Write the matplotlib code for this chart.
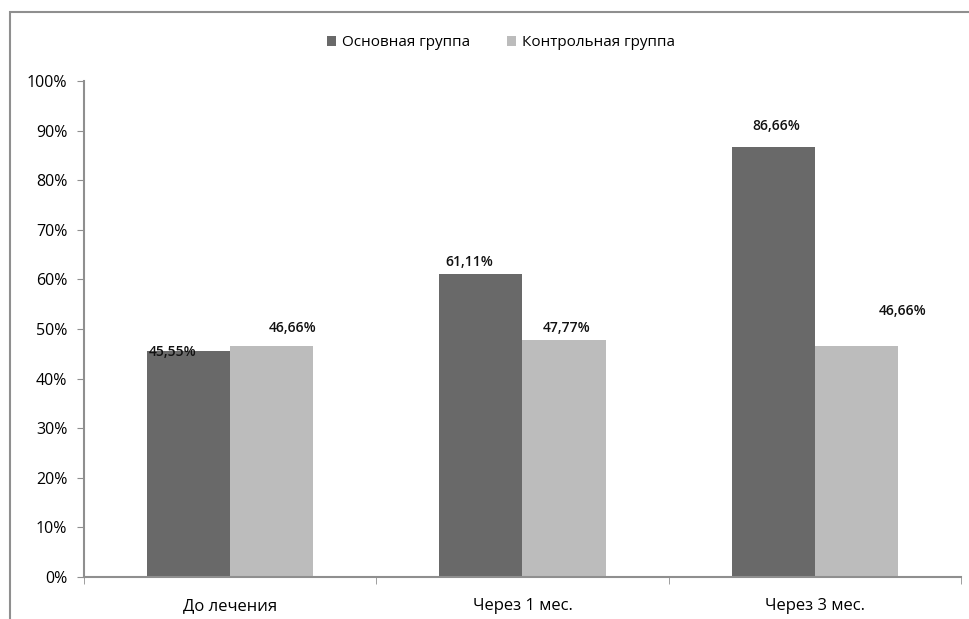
import numpy as np
import matplotlib
matplotlib.use("Agg")
import matplotlib.pyplot as plt
from matplotlib.patches import Rectangle
from matplotlib.ticker import FuncFormatter

plt.rcParams['font.family'] = ['Open Sans', 'DejaVu Sans']

# данные
categories = ['До лечения', 'Через 1 мес.', 'Через 3 мес.']
series_names = ['Основная группа', 'Контрольная группа']
main_group = [45.55, 61.11, 86.66]
control_group = [46.66, 47.77, 46.66]
value_labels = [['45,55%', '61,11%', '86,66%'],
                ['46,66%', '47,77%', '46,66%']]

colors = ['#696969', '#bcbcbc']
# смещения подписей (по оси x в долях категории, по y в процентах)
label_dx = [[-0.055, -0.04, 0.01], [0.07, 0.01, 0.16]]
label_dy = [[-0.2, 2.5, 4.3], [3.5, 2.5, 7.0]]

fig = plt.figure(figsize=(9.69, 6.19), dpi=100)
ax = fig.add_axes([0.0867, 0.068, 0.905, 0.801])

# рамка вокруг диаграммы
frame = Rectangle((10 / 969, -0.1), 1.2, 1 - 12 / 619 + 0.1, transform=fig.transFigure,
                  fill=False, edgecolor='#8f8f8f', linewidth=1.5)
fig.patches.append(frame)

x = np.arange(len(categories))
w = 0.284
for i, vals in enumerate([main_group, control_group]):
    pos = x + (i - 0.5) * w
    ax.bar(pos, vals, width=w, color=colors[i], label=series_names[i], zorder=2)
    for j, v in enumerate(vals):
        ax.text(pos[j] + label_dx[i][j], v + label_dy[i][j], value_labels[i][j],
                ha='center', va='center', fontsize=10, fontweight='semibold', color='#111111',
                zorder=3)

ax.set_xlim(-0.5, len(categories) - 0.5)
ax.set_ylim(0, 100)
ax.set_yticks(np.arange(0, 101, 10))
ax.yaxis.set_major_formatter(FuncFormatter(lambda v, p: '%d%%' % v))
ax.set_xticks(x)
ax.set_xticklabels(categories, fontsize=12)
ax.set_xticks(np.arange(len(categories) + 1) - 0.5, minor=True)
ax.tick_params(axis='x', which='major', length=0, pad=15)
ax.tick_params(axis='x', which='minor', length=5, color='#8f8f8f', direction='out')
ax.tick_params(axis='y', length=5, color='#8f8f8f', labelsize=11.5, pad=7)

for side in ['top', 'right']:
    ax.spines[side].set_visible(False)
for side in ['left', 'bottom']:
    ax.spines[side].set_color('#8f8f8f')
    ax.spines[side].set_linewidth(1.5)

leg = fig.legend(loc='center', bbox_to_anchor=(0.517, 1 - 43 / 619), ncol=2, frameon=False,
                 fontsize=11, handlelength=0.6, handleheight=0.6, handletextpad=0.4,
                 columnspacing=2.4)

fig.savefig('out.png', dpi=100)
